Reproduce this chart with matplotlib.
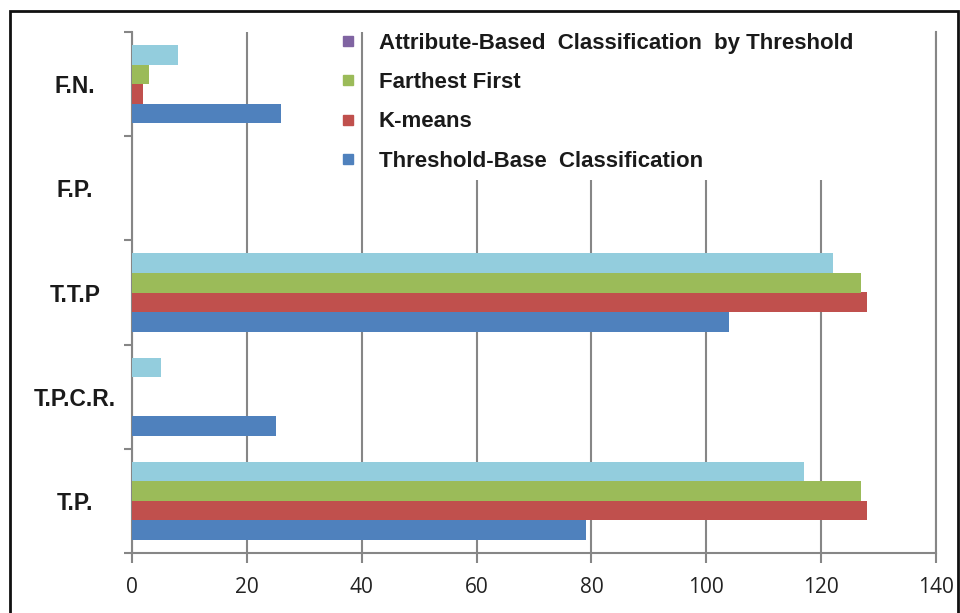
import matplotlib.pyplot as plt
from matplotlib.lines import Line2D
from matplotlib.patches import Rectangle
import numpy as np

# ---------------- data ----------------
categories = ["T.P.", "T.P.C.R.", "T.T.P", "F.P.", "F.N."]
threshold_base = [79, 25, 104, 0, 26]
kmeans = [128, 0, 128, 0, 2]
farthest_first = [127, 0, 127, 0, 3]
attribute_based = [117, 5, 122, 0, 8]

series_names = ["Threshold-Base  Classification", "K-means", "Farthest First",
                "Attribute-Based  Classification  by Threshold"]
bar_colors = ["#4F81BD", "#C0504D", "#9BBB59", "#93CDDD"]
legend_colors = ["#4F81BD", "#C0504D", "#9BBB59", "#8064A2"]
x_ticks = [0, 20, 40, 60, 80, 100, 120, 140]

# ---------------- plot ----------------
fig = plt.figure(figsize=(9.6, 6.13), dpi=100)
ax = fig.add_axes([132 / 960, 1 - 553 / 613, 804 / 960, 521 / 613])

y = np.arange(len(categories))
h = 0.1875
allSeries = [threshold_base, kmeans, farthest_first, attribute_based]
for i, vals in enumerate(allSeries):
    ax.barh(y + (i - 1.5) * h, vals, h, color=bar_colors[i], zorder=3)

ax.set_xlim(0, 140)
ax.set_ylim(-0.5, len(categories) - 0.5)
ax.set_xticks(x_ticks)
ax.set_xticklabels([str(t) for t in x_ticks], fontsize=15, family="Open Sans", color="#222222")
ax.tick_params(axis="x", length=7, width=1.5, color="#868686", pad=10)

ax.set_yticks(y)
ax.set_yticklabels(categories, fontsize=16.5, fontweight="bold", family="Liberation Sans",
                   color="#1a1a1a")
ax.set_yticks(np.arange(len(categories) + 1) - 0.5, minor=True)
ax.tick_params(axis="y", which="major", length=0, pad=41)
ax.tick_params(axis="y", which="minor", length=6, width=1.5, color="#868686")
for lbl in ax.get_yticklabels():
    lbl.set_ha("center")

ax.grid(axis="x", color="#868686", linewidth=1.5, zorder=0)
for s in ["top", "right"]:
    ax.spines[s].set_visible(False)
for s in ["left", "bottom"]:
    ax.spines[s].set_color("#868686")
    ax.spines[s].set_linewidth(1.5)
# gridline at 140 forms the right edge
ax.axvline(140, color="#868686", linewidth=1.5, zorder=6, clip_on=False)

# white area behind the legend hides the gridlines (except the one at 40)
ax.add_patch(Rectangle((365 / 960, 1 - 180 / 613), 510 / 960, 156 / 613,
                       transform=fig.transFigure, facecolor="white", edgecolor="none",
                       zorder=4, clip_on=False))

# legend (reverse order, no border)
handles = [Line2D([], [], marker="s", linestyle="none", markersize=7,
                  color=legend_colors[i]) for i in range(4)][::-1]
leg = ax.legend(handles, series_names[::-1], loc="upper left",
                bbox_to_anchor=(330 / 960, 1 - 24 / 613), bbox_transform=fig.transFigure,
                frameon=False,
                prop={"family": "Liberation Sans", "weight": "bold", "size": 16},
                labelspacing=0.82, handletextpad=1.0, borderaxespad=0, handlelength=0.8)
for t in leg.get_texts():
    t.set_color("#1a1a1a")
leg.set_zorder(5)

# outer black frame
fig.patches.append(Rectangle((10 / 960, -0.1), 948 / 960, 1.1 - 11 / 613, transform=fig.transFigure,
                             fill=False, edgecolor="#111111", linewidth=2))

fig.savefig("out.png", dpi=100)
